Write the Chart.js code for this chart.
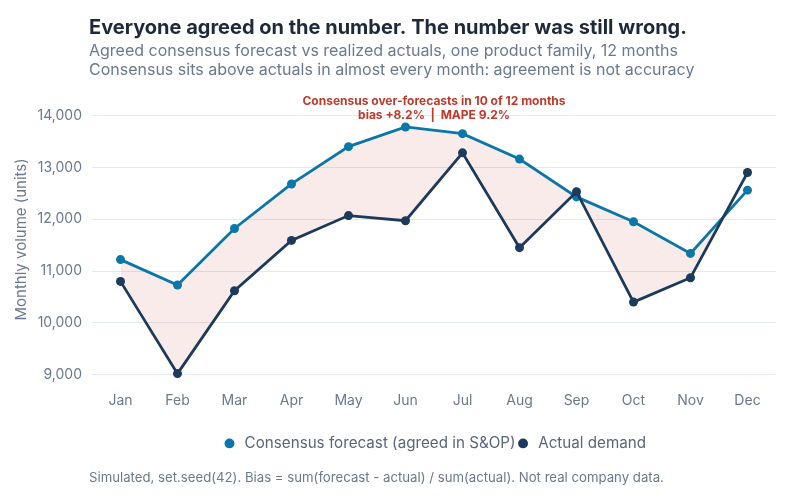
<!DOCTYPE html>
<html>
<head>
<meta charset="utf-8">
<script src="https://cdn.jsdelivr.net/npm/chart.js@4/dist/chart.umd.min.js"></script>
<style>
  html, body { margin: 0; padding: 0; background: #fff; }
  #wrap { width: 800px; height: 500px; position: relative; }
</style>
</head>
<body>
<div id="wrap"><canvas id="chart" width="800" height="500"></canvas></div>
<script>
// data
const months = ['Jan', 'Feb', 'Mar', 'Apr', 'May', 'Jun', 'Jul', 'Aug', 'Sep', 'Oct', 'Nov', 'Dec'];
const consensus = [11220, 10730, 11820, 12680, 13400, 13780, 13650, 13160, 12430, 11950, 11340, 12560];
const actual = [10800, 9020, 10620, 11590, 12070, 11970, 13280, 11450, 12530, 10400, 10870, 12900];
const yTicks = [9000, 10000, 11000, 12000, 13000, 14000];

const titleText = 'Everyone agreed on the number. The number was still wrong.';
const subtitleLines = [
    'Agreed consensus forecast vs realized actuals, one product family, 12 months',
    'Consensus sits above actuals in almost every month: agreement is not accuracy'
];
const noteLines = ['Consensus over-forecasts in 10 of 12 months', 'bias +8.2%  |  MAPE 9.2%'];
const footerText = 'Simulated, set.seed(42). Bias = sum(forecast - actual) / sum(actual). Not real company data.';

const FONT = 'Inter, "Noto Sans", sans-serif';
const slate = '#6b7891';

// draws the header, footer and the annotation
const textPlugin = {
    id: 'texts',
    afterLayout(chart) {
        // legend sits centred under the plot panel, not the whole canvas
        chart.legend.left += 42;
        chart.legend.right += 42;
    },
    afterDraw(chart) {
        const ctx = chart.ctx;
        ctx.save();
        ctx.textBaseline = 'middle';
        ctx.textAlign = 'left';
        ctx.fillStyle = '#1e293b';
        ctx.font = 'bold 20px ' + FONT;
        ctx.fillText(titleText, 89, 28);
        ctx.fillStyle = slate;
        ctx.font = '16px ' + FONT;
        ctx.fillText(subtitleLines[0], 89, 51);
        ctx.fillText(subtitleLines[1], 89, 70);
        ctx.font = '13.2px ' + FONT;
        ctx.fillText(footerText, 89, 478);

        ctx.textAlign = 'center';
        ctx.fillStyle = '#c0392b';
        ctx.font = 'bold 12px ' + FONT;
        ctx.fillText(noteLines[0], 434, 101);
        ctx.fillText(noteLines[1], 434, 115);
        ctx.restore();
    }
};

new Chart(document.getElementById('chart'), {
    type: 'line',
    data: {
        labels: months,
        datasets: [
            {
                label: 'Consensus forecast (agreed in S&OP)',
                data: consensus,
                borderColor: '#0b77a8',
                backgroundColor: '#0b77a8',
                borderWidth: 2.8,
                pointRadius: 4.5,
                pointHoverRadius: 4.5,
                pointBorderWidth: 0,
                tension: 0,
                order: 1,
                fill: { target: 1, above: 'rgba(192,57,43,0.1)', below: 'rgba(0,0,0,0)' }
            },
            {
                label: 'Actual demand',
                data: actual,
                borderColor: '#1c3a5c',
                backgroundColor: '#1c3a5c',
                borderWidth: 2.8,
                pointRadius: 4.5,
                pointHoverRadius: 4.5,
                pointBorderWidth: 0,
                tension: 0,
                order: 0,
                fill: false
            }
        ]
    },
    options: {
        responsive: false,
        animation: false,
        layout: { padding: { top: 100, left: 8, right: 24, bottom: 39 } },
        plugins: {
            legend: {
                position: 'bottom',
                labels: {
                    usePointStyle: true,
                    pointStyle: 'circle',
                    boxWidth: 15,
                    boxHeight: 7,
                    padding: 0,
                    color: '#5a6579',
                    font: { family: FONT, size: 15.2 },
                    sort: (a, b) => a.datasetIndex - b.datasetIndex
                }
            },
            tooltip: { enabled: false }
        },
        scales: {
            x: {
                offset: true,
                grid: { display: false },
                border: { display: false },
                ticks: { color: slate, font: { family: FONT, size: 14 }, padding: 6 },
                afterFit: (scale) => { scale.height = 57; }
            },
            y: {
                min: 8920,
                max: 14300,
                grid: { color: '#e4e8ef', lineWidth: 1, drawTicks: false },
                border: { display: false },
                afterBuildTicks: (scale) => { scale.ticks = yTicks.map((v) => ({ value: v })); },
                ticks: {
                    padding: 10,
                    color: slate,
                    font: { family: FONT, size: 14 },
                    callback: (v) => v.toLocaleString('en-US')
                },
                title: {
                    display: true,
                    text: 'Monthly volume (units)',
                    color: slate,
                    font: { family: FONT, size: 15 },
                    padding: 4
                },
                afterFit: (scale) => { scale.width = 84; }
            }
        }
    },
    plugins: [textPlugin]
});
</script>
</body>
</html>
